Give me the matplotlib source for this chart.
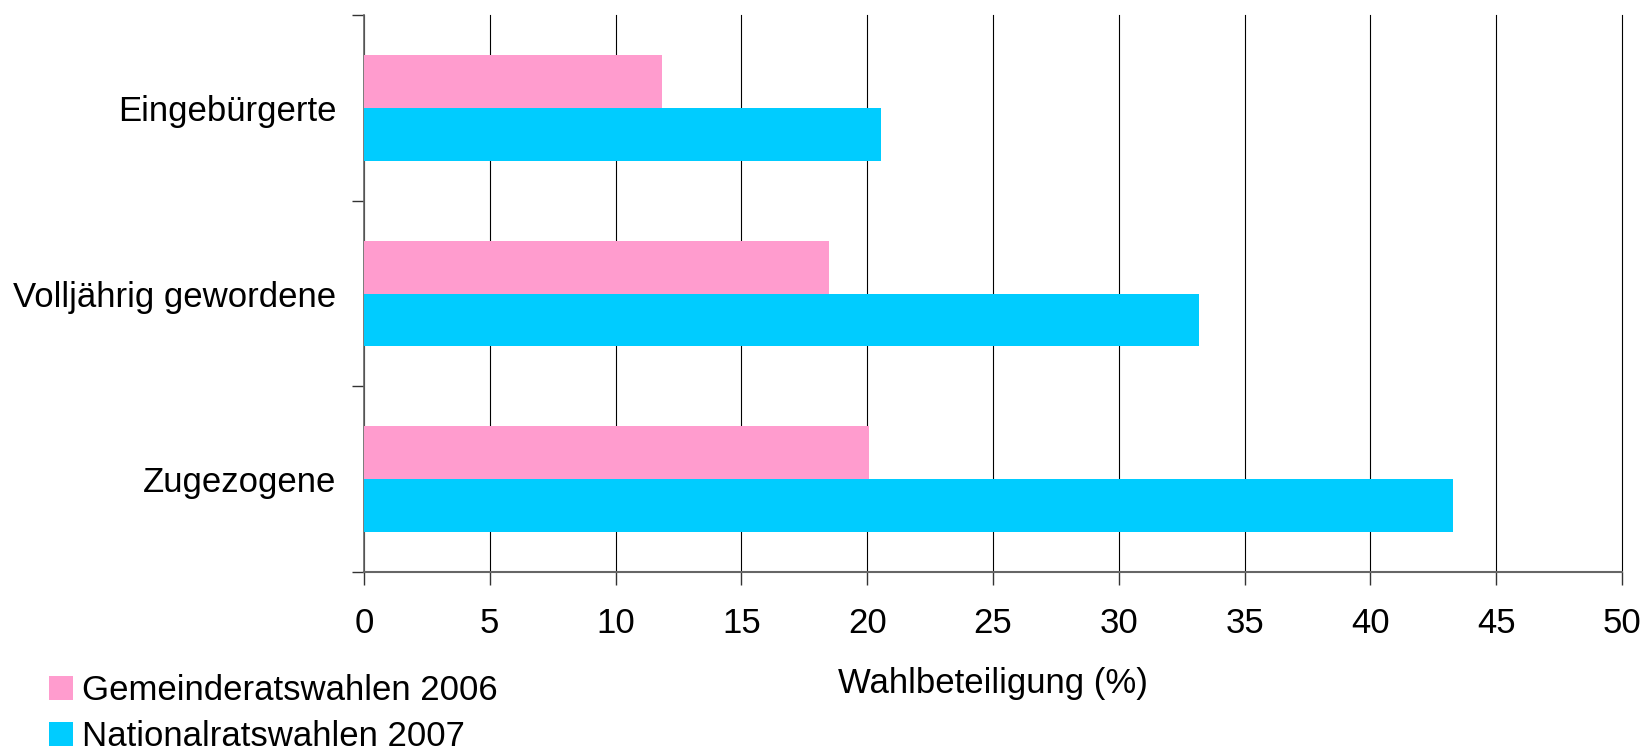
import numpy as np
import matplotlib.pyplot as plt

plt.rcParams['font.family'] = ['Liberation Sans', 'DejaVu Sans']

# Daten
kategorien = ["Eingebürgerte", "Volljährig gewordene", "Zugezogene"]
gemeinderat_2006 = [11.85, 18.5, 20.07]
nationalrat_2007 = [20.55, 33.2, 43.3]
serien = ["Gemeinderatswahlen 2006", "Nationalratswahlen 2007"]
x_ticks = [0, 5, 10, 15, 20, 25, 30, 35, 40, 45, 50]

farbe_pink = "#FF9CCE"
farbe_cyan = "#00CCFF"

fig = plt.figure(figsize=(16.46, 7.53), dpi=100)
ax = fig.add_axes([0.2211, 0.2404, 0.9854 - 0.2211, 0.980 - 0.2404])

y = np.arange(len(kategorien))
h = 0.285
ax.barh(y - h / 2, gemeinderat_2006, height=h, color=farbe_pink, label=serien[0], zorder=3)
ax.barh(y + h / 2, nationalrat_2007, height=h, color=farbe_cyan, label=serien[1], zorder=3)

ax.set_xlim(0, 50)
ax.set_ylim(2.5, -0.5)
ax.set_xticks(x_ticks)
ax.set_xticklabels([str(t) for t in x_ticks], fontsize=25)
ax.set_yticks(y)
ax.set_yticklabels(kategorien, fontsize=25)
ax.set_yticks([-0.5, 0.5, 1.5, 2.5], minor=True)
ax.tick_params(axis='y', which='major', length=0, pad=20)
ax.tick_params(axis='y', which='minor', length=9, width=1, color='#333333')
ax.tick_params(axis='x', length=9, width=1, color='#333333', pad=16)

ax.grid(axis='x', color='black', linewidth=0.8, zorder=0)
for gl in ax.get_xgridlines():
    gl.set_clip_on(False)
for s in ['top', 'right']:
    ax.spines[s].set_visible(False)
ax.spines['left'].set_color('#666666')
ax.spines['bottom'].set_color('#666666')
ax.spines['left'].set_linewidth(1.2)
ax.spines['bottom'].set_linewidth(1.5)

ax.set_xlabel("Wahlbeteiligung (%)", fontsize=25, labelpad=20)

fig.legend(loc='upper left', bbox_to_anchor=(0.0215, 0.123), frameon=False,
           fontsize=25, handlelength=0.68, handleheight=0.68,
           handletextpad=0.25, labelspacing=0.38, borderaxespad=0)

plt.savefig("out.png", dpi=100)
